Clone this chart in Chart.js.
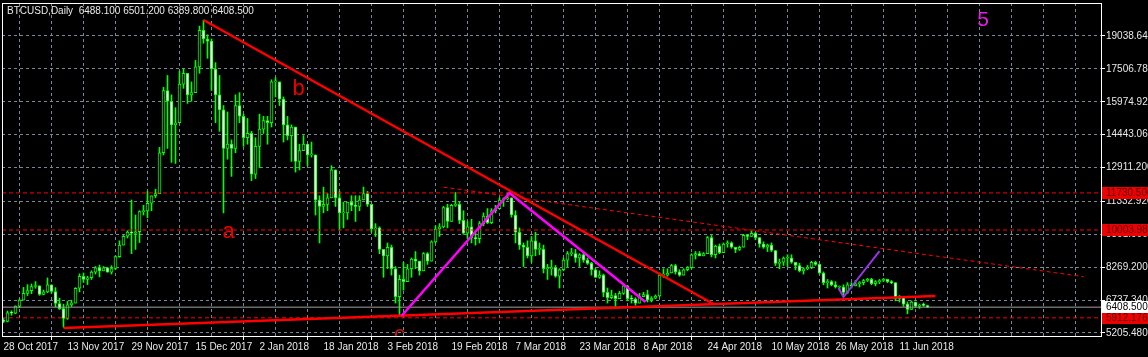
<!DOCTYPE html>
<html>
<head>
<meta charset="utf-8">
<script src="https://cdn.jsdelivr.net/npm/chart.js@4.4.0/dist/chart.umd.min.js"></script>
<style>
html, body { margin: 0; padding: 0; background: #000; }
</style>
</head>
<body>
<canvas id="myChart" width="1148" height="357"></canvas>
<script>
// BTCUSD daily, one bar per trading day starting 28 Oct 2017
var xLabels = ["28 Oct 2017", "13 Nov 2017", "29 Nov 2017", "15 Dec 2017", "2 Jan 2018",
    "18 Jan 2018", "3 Feb 2018", "19 Feb 2018", "7 Mar 2018", "23 Mar 2018", "8 Apr 2018",
    "24 Apr 2018", "10 May 2018", "26 May 2018", "11 Jun 2018"];

var yTicks = [19038.64, 17506.78, 15974.92, 14443.06, 12911.2, 11332.92, 9801.06, 8269.2, 6737.34, 5205.48];

var open = [
    5760, 5750, 6150, 6130, 6460, 6740, 7050, 7180, 7370, 7400, 7000, 7120, 7450, 7140, 6580, 6340,
    5880, 6520, 6600, 7290, 7850, 7700, 7780, 8040, 8240, 8100, 8240, 8040, 8210, 8760, 9300, 9710,
    9910, 9850, 9920, 10860, 10890, 11250, 11600, 11700, 13600, 16500, 16000, 14900, 15000, 16800, 17300, 16300,
    16400, 17600, 19300, 18900, 18800, 17500, 16300, 15600, 13800, 14000, 13800, 15800, 15300, 14300, 14500, 12600,
    13900, 14700, 15100, 15000, 16900, 16900, 16100, 14900, 14400, 14800, 13200, 13700, 14000, 13500, 13500, 11400,
    11100, 11200, 11500, 12800, 11500, 10800, 10800, 11300, 11150, 11100, 11400, 11700, 11200, 10050, 10100, 9100,
    8800, 9200, 8200, 6900, 7700, 7600, 8200, 8650, 8550, 8100, 8900, 8550, 9450, 10050, 10150, 11050,
    10400, 11150, 11200, 10450, 9850, 10150, 9650, 9600, 10300, 10650, 10350, 10900, 11000, 11400, 11450, 11500,
    10700, 9900, 9300, 9200, 8800, 9500, 9100, 9100, 8200, 8200, 8250, 7850, 8150, 8600, 8900, 8900,
    8700, 8850, 8600, 8450, 8150, 7800, 7900, 7100, 6850, 6950, 6800, 7050, 7400, 6800, 6780, 6600,
    6900, 7000, 6750, 6830, 6930, 7900, 7900, 8000, 8350, 8050, 7900, 8150, 8250, 8850, 8900, 8800,
    8900, 9650, 8850, 9250, 8950, 9350, 9400, 9200, 9100, 9200, 9750, 9700, 9850, 9650, 9350, 9200,
    9300, 9050, 8450, 8500, 8700, 8700, 8500, 8350, 8100, 8200, 8250, 8500, 8400, 8000, 7550, 7600,
    7450, 7350, 7350, 7100, 7450, 7400, 7500, 7550, 7650, 7700, 7500, 7600, 7650, 7700, 7600, 7550,
    6800, 6900, 6550, 6300, 6650, 6450, 6500, 6488.1
];
var high = [
    5900, 6230, 6240, 6470, 6780, 7330, 7460, 7490, 7600, 7410, 7210, 7770, 7450, 7320, 6830, 6550,
    6680, 6730, 7320, 7960, 8000, 7850, 8100, 8300, 8370, 8300, 8260, 8340, 8800, 9500, 9750, 9970,
    11400, 10700, 10900, 11150, 11800, 11600, 11900, 13850, 16650, 17200, 16300, 15700, 17400, 17500, 17300, 16900,
    17900, 19500, 19780, 19100, 18900, 17800, 17200, 15800, 15500, 14200, 16300, 16400, 15400, 15200, 14600, 14300,
    15400, 15300, 15300, 17000, 17100, 16900, 16200, 15300, 14900, 14800, 14000, 14400, 14000, 14100, 13500, 11600,
    12000, 11700, 13000, 12800, 11800, 11300, 11300, 11600, 11600, 11600, 12000, 11800, 11200, 10300, 10150, 9100,
    9400, 9300, 8300, 7900, 8500, 8400, 8700, 9000, 8550, 8950, 8950, 9500, 10200, 10300, 11100, 11200,
    11200, 11750, 11300, 10900, 10400, 10500, 9850, 10400, 10800, 11000, 11000, 11150, 11500, 11500, 11730, 11500,
    10900, 10100, 9400, 9500, 9700, 9900, 9400, 9300, 8400, 8600, 8350, 8200, 8700, 9000, 9150, 9100,
    8900, 9000, 8700, 8500, 8200, 8100, 7950, 7300, 7200, 7050, 7150, 7500, 7420, 6950, 6850, 7050,
    7100, 7200, 6900, 6980, 8000, 8200, 8200, 8400, 8400, 8150, 8200, 8300, 8900, 9000, 9000, 8950,
    9700, 9750, 9300, 9350, 9400, 9500, 9450, 9200, 9250, 9800, 9800, 9950, 9900, 9650, 9450, 9350,
    9400, 9050, 8650, 8750, 8850, 8850, 8500, 8450, 8250, 8350, 8550, 8550, 8400, 8050, 7700, 7650,
    7600, 7400, 7450, 7550, 7550, 7650, 7600, 7700, 7750, 7750, 7650, 7700, 7750, 7700, 7650, 7550,
    6950, 6900, 6650, 6700, 6650, 6550, 6600, 6501.2
];
var low = [
    5690, 5720, 6030, 6100, 6380, 6740, 6950, 7040, 7290, 6960, 6980, 7080, 7060, 6430, 6300, 5470,
    5840, 6440, 6600, 7120, 7560, 7460, 7700, 7950, 7820, 8100, 8040, 7950, 8160, 8730, 9300, 9630,
    8900, 9100, 9420, 10700, 10570, 10900, 11500, 11700, 13500, 13800, 13150, 13100, 15000, 16600, 15900, 16000,
    16400, 17300, 18700, 18000, 16500, 15000, 14600, 10800, 13300, 12500, 13600, 15000, 13900, 14000, 12300, 12400,
    12900, 14500, 14000, 14800, 16200, 15800, 14100, 14200, 13200, 12700, 12800, 13700, 13000, 13400, 10700, 9400,
    10800, 10900, 11500, 11100, 10000, 10100, 10500, 10900, 10400, 10900, 11400, 11100, 9900, 9700, 8900, 7800,
    8200, 7900, 6600, 6000, 7200, 7600, 7800, 8200, 7900, 8100, 8400, 8550, 9400, 9700, 10100, 10100,
    10400, 11100, 10300, 9800, 9600, 9400, 9300, 9400, 10200, 10300, 10300, 10800, 11000, 11100, 11400, 10600,
    9400, 9100, 8300, 8700, 8500, 8800, 8850, 8000, 7700, 7900, 7800, 7300, 8100, 8300, 8800, 8500,
    8300, 8500, 8400, 7900, 7800, 7750, 6900, 6600, 6800, 6450, 6800, 7000, 6700, 6600, 6500, 6600,
    6900, 6650, 6650, 6800, 6900, 7800, 7850, 8000, 7950, 7850, 7900, 8100, 8200, 8650, 8800, 8800,
    8900, 8750, 8700, 8900, 8950, 9200, 9150, 8950, 9050, 9200, 9550, 9700, 9550, 9200, 9150, 9000,
    9000, 8350, 8200, 8350, 8300, 8450, 8150, 8050, 7950, 8150, 8200, 8350, 7950, 7450, 7300, 7400,
    7300, 7200, 6900, 7050, 7300, 7400, 7350, 7450, 7600, 7450, 7400, 7500, 7600, 7550, 7500, 6700,
    6650, 6450, 6100, 6300, 6400, 6350, 6450, 6389.8
];
var close = [
    5750, 6150, 6130, 6460, 6740, 7050, 7180, 7370, 7400, 7000, 7120, 7450, 7140, 6580, 6340, 5880,
    6520, 6600, 7290, 7850, 7700, 7780, 8040, 8240, 8100, 8240, 8040, 8210, 8760, 9300, 9710, 9910,
    9850, 9920, 10860, 10890, 11250, 11600, 11700, 13600, 16500, 16000, 14900, 15000, 16800, 17300, 16300, 16400,
    17600, 19300, 18900, 18800, 17500, 16300, 15600, 13800, 14000, 13800, 15800, 15300, 14300, 14500, 12600, 13900,
    14700, 15100, 15000, 16900, 16900, 16100, 14900, 14400, 14800, 13200, 13700, 14000, 13500, 13500, 11400, 11100,
    11200, 11500, 12800, 11500, 10800, 10800, 11300, 11150, 11100, 11400, 11700, 11200, 10050, 10100, 9100, 8800,
    9200, 8200, 6900, 7700, 7600, 8200, 8650, 8550, 8100, 8900, 8550, 9450, 10050, 10150, 11050, 10400,
    11150, 11200, 10450, 9850, 10150, 9650, 9600, 10300, 10650, 10350, 10900, 11000, 11400, 11450, 11500, 10700,
    9900, 9300, 9200, 8800, 9500, 9100, 9100, 8200, 8200, 8250, 7850, 8150, 8600, 8900, 8900, 8700,
    8850, 8600, 8450, 8150, 7800, 7900, 7100, 6850, 6950, 6800, 7050, 7400, 6800, 6780, 6600, 6900,
    7000, 6750, 6830, 6930, 7900, 7900, 8000, 8350, 8050, 7900, 8150, 8250, 8850, 8900, 8800, 8900,
    9650, 8850, 9250, 8950, 9350, 9400, 9200, 9100, 9200, 9750, 9700, 9850, 9650, 9350, 9200, 9300,
    9050, 8450, 8500, 8700, 8700, 8500, 8350, 8100, 8200, 8250, 8500, 8400, 8000, 7550, 7600, 7450,
    7350, 7350, 7100, 7450, 7400, 7500, 7550, 7650, 7700, 7500, 7600, 7650, 7700, 7600, 7550, 6800,
    6900, 6550, 6300, 6650, 6450, 6500, 6490, 6408.5
];

// horizontal levels and drawn objects, in (bar, price)
var redLevels = [11730.506, 10003.983, 5912.176];
var lastPrice = 6408.5;
var lineB = [[50, 19784], [177.5, 6555]];
var lineSupport = [[15, 5437], [233, 6927]];
var lineDashed = [[110, 12000], [270, 7830]];
var lineWave = [[99.5, 5996], [126.5, 11730], [160.5, 6648]];
var lineViolet = [[208.75, 7300], [210, 6881], [219, 9024]];
var notes = [
    { text: "a", x: 56.25, y: 9909, color: "#ee0000", size: 22 },
    { text: "b", x: 73.75, y: 16570, color: "#ee0000", size: 22 },
    { text: "c", x: 99, y: 5115, color: "#cc1111", size: 22 },
    { text: "5", x: 244.9, y: 19784, color: "#e81ee8", size: 21 }
];

var xMin = -0.375, xMax = 274.375;
var gridColor = "#778899";
var font = { family: "Liberation Sans", size: 10 };

var wicks = [], bodies = [], bodyFill = [];
for (var i = 0; i < close.length; i++) {
    wicks.push({ x: i, y: [low[i], high[i]] });
    bodies.push({ x: i, y: [open[i], close[i]] });
    bodyFill.push(close[i] >= open[i] ? "#000000" : "#ffffff");
}

function pts(arr) {
    return arr.map(function (p) { return { x: p[0], y: p[1] }; });
}
function level(v) {
    return [{ x: xMin, y: v }, { x: xMax, y: v }];
}
function lineSet(data, color, width, dash, order) {
    return {
        type: "line", data: data, borderColor: color, borderWidth: width,
        borderDash: dash || [], pointRadius: 0, fill: false, tension: 0, order: order
    };
}

var datasets = [
    { data: wicks, backgroundColor: "#00ff00", barThickness: 1, grouped: false, order: 20 },
    {
        data: bodies, backgroundColor: bodyFill, borderColor: "#00ff00", borderWidth: 1,
        borderSkipped: false, barThickness: 3, minBarLength: 1, grouped: false, order: 19
    },
    lineSet(level(lastPrice), "#a0a0a0", 1, null, 10)
];
redLevels.forEach(function (v) {
    datasets.push(lineSet(level(v), "#ff0000", 1, [4, 3], 9));
});
datasets.push(lineSet(pts(lineDashed), "#ff0000", 1, [4, 3], 8));
datasets.push(lineSet(pts(lineSupport), "#ff0000", 2.5, null, 3));
datasets.push(lineSet(pts(lineB), "#ff0000", 2.5, null, 3));
datasets.push(lineSet(pts(lineWave), "#ff00ff", 2.5, null, 2));
datasets.push(lineSet(pts(lineViolet), "#9a32e6", 2, null, 2));

var mtPlugin = {
    id: "mt",
    beforeDraw: function (chart) {
        var c = chart.ctx;
        c.save();
        c.fillStyle = "#000";
        c.fillRect(0, 0, chart.width, chart.height);
        c.restore();
    },
    afterDatasetsDraw: function (chart) {
        var c = chart.ctx, a = chart.chartArea;
        var sx = chart.scales.x, sy = chart.scales.y;
        c.save();
        c.beginPath();
        c.rect(a.left, a.top, a.right - a.left, a.bottom - a.top);
        c.clip();
        c.textAlign = "center";
        c.textBaseline = "middle";
        notes.forEach(function (n) {
            c.fillStyle = n.color;
            c.font = n.size + "px 'Liberation Sans'";
            c.fillText(n.text, sx.getPixelForValue(n.x), sy.getPixelForValue(n.y));
        });
        c.restore();
    },
    afterDraw: function (chart) {
        var c = chart.ctx, a = chart.chartArea, sy = chart.scales.y;
        c.save();
        c.strokeStyle = "#ffffff";
        c.lineWidth = 1;
        c.strokeRect(a.left + 0.5, a.top + 0.5, a.right - a.left, a.bottom - a.top);

        c.font = "10px 'Liberation Sans'";
        c.textAlign = "left";
        c.textBaseline = "middle";
        function box(v, bg, fg) {
            var py = Math.round(sy.getPixelForValue(v));
            c.fillStyle = bg;
            c.fillRect(a.right + 1, py - 6, chart.width - a.right, 12);
            c.fillStyle = fg;
            c.fillText(v.toFixed(3), a.right + 5, py);
        }
        redLevels.forEach(function (v) { box(v, "#ee0000", "#5a0000"); });
        box(lastPrice, "#ffffff", "#000000");

        c.fillStyle = "#e8e8e8";
        c.fillText("BTCUSD,Daily  " + open[open.length - 1].toFixed(3) + " " +
            high[high.length - 1].toFixed(3) + " " + low[low.length - 1].toFixed(3) + " " +
            close[close.length - 1].toFixed(3), a.left + 5, a.top + 8);
        c.restore();
    }
};

var ctx = document.getElementById("myChart");
var myChart = new Chart(ctx, {
    type: "bar",
    data: { datasets: datasets },
    options: {
        responsive: false,
        animation: false,
        events: [],
        layout: { padding: { left: 2, top: 3, right: 0, bottom: 0 } },
        plugins: { legend: { display: false }, tooltip: { enabled: false } },
        scales: {
            x: {
                type: "linear", min: xMin, max: xMax, offset: false,
                afterBuildTicks: function (s) {
                    var t = [];
                    for (var v = 0; v <= 272; v += 8) t.push({ value: v });
                    s.ticks = t;
                },
                afterFit: function (s) {
                    s.height = 21;
                    s.paddingLeft = 0;
                    s.paddingRight = 0;
                },
                grid: {
                    color: gridColor, lineWidth: 1, tickLength: 4,
                    tickColor: function (c) {
                        return c.tick && c.tick.value % 16 === 0 && c.tick.value / 16 < xLabels.length ? "#ffffff" : "rgba(0,0,0,0)";
                    }
                },
                border: { display: false, dash: [3, 3] },
                ticks: {
                    color: "#e8e8e8", font: font, align: "start", padding: 1,
                    maxRotation: 0, minRotation: 0, autoSkip: false,
                    callback: function (v) {
                        return v % 16 === 0 && v / 16 < xLabels.length ? xLabels[v / 16] : "";
                    }
                }
            },
            y: {
                position: "right", min: 5065.75, max: 20575.65,
                afterBuildTicks: function (s) {
                    s.ticks = yTicks.map(function (v) { return { value: v }; });
                },
                afterFit: function (s) {
                    s.width = 47;
                    s.paddingTop = 0;
                    s.paddingBottom = 0;
                },
                grid: { color: gridColor, lineWidth: 1, tickLength: 4, tickColor: "#ffffff" },
                border: { display: false, dash: [3, 3] },
                ticks: {
                    color: "#e8e8e8", font: font, padding: 1,
                    callback: function (v) { return Number(v).toFixed(3); }
                }
            }
        }
    },
    plugins: [mtPlugin]
});
</script>
</body>
</html>
